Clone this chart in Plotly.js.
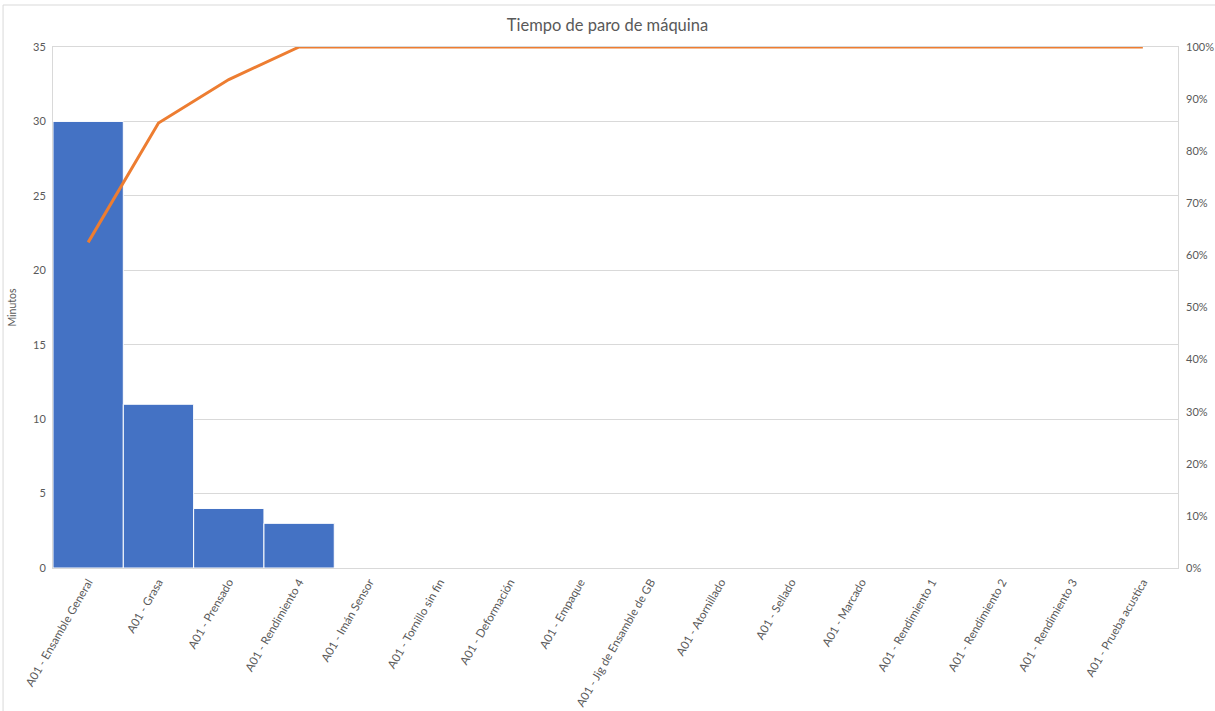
<!DOCTYPE html>
<html>
<head>
<meta charset="utf-8">
<script src="https://cdn.plot.ly/plotly-3.0.1.min.js"></script>
<style>html,body{margin:0;padding:0;background:#fff;}#chart{width:1215px;height:711px;}</style>
</head>
<body>
<div id="chart"></div>
<script>
const categories = [
  "A01 - Ensamble General", "A01 - Grasa", "A01 - Prensado", "A01 - Rendimiento 4",
  "A01 - Imán Sensor", "A01 - Tornillo sin fin", "A01 - Deformación", "A01 - Empaque",
  "A01 - Jig de Ensamble de GB", "A01 - Atornillado", "A01 - Sellado", "A01 - Marcado",
  "A01 - Rendimiento 1", "A01 - Rendimiento 2", "A01 - Rendimiento 3", "A01 - Prueba acustica"
];
const minutes = [30, 11, 4, 3, 0, 0, 0, 0, 0, 0, 0, 0, 0, 0, 0, 0];
const cumulativePct = [0.625, 0.854, 0.9375, 1, 1, 1, 1, 1, 1, 1, 1, 1, 1, 1, 1, 1];
const leftTicks = [0, 5, 10, 15, 20, 25, 30, 35];
const rightTicks = [0, 0.1, 0.2, 0.3, 0.4, 0.5, 0.6, 0.7, 0.8, 0.9, 1];

const fontFam = "Lato, 'Open Sans', sans-serif";
const txt = "#595959";
const grid = "#d9d9d9";

const traces = [
  {
    type: "bar", x: categories, y: minutes, yaxis: "y",
    marker: {color: "#4472C4", line: {color: "#ffffff", width: 1}},
    hoverinfo: "x+y", showlegend: false
  },
  {
    type: "scatter", mode: "lines", x: categories, y: cumulativePct, yaxis: "y2",
    line: {color: "#ED7D31", width: 3}, showlegend: false
  }
];

const layout = {
  width: 1215, height: 711,
  margin: {l: 53, r: 37, t: 47, b: 143},
  paper_bgcolor: "#ffffff", plot_bgcolor: "#ffffff",
  font: {family: fontFam, color: txt, size: 11},
  title: {text: "Tiempo de paro de máquina", x: 0.5, xanchor: "center", y: 0.965, yanchor: "middle",
          font: {family: fontFam, size: 16.5, color: txt}},
  bargap: 0,
  xaxis: {
    type: "category", tickangle: -60, tickfont: {size: 11.5, color: txt},
    showline: true, linecolor: grid, linewidth: 1, mirror: true,
    ticks: "", showgrid: false, automargin: false, ticklabelstandoff: 2
  },
  yaxis: {
    range: [0, 35], tickvals: leftTicks, ticktext: leftTicks.map(String),
    showgrid: true, gridcolor: grid, gridwidth: 1,
    showline: true, linecolor: grid, mirror: true, zeroline: false,
    ticks: "", tickfont: {size: 11, color: txt}, ticklabelstandoff: 4,
    title: {text: "Minutos", font: {size: 10.5, color: txt}, standoff: 14},
    automargin: false
  },
  yaxis2: {
    range: [0, 1], overlaying: "y", side: "right",
    tickvals: rightTicks, tickformat: ".0%",
    showgrid: false, zeroline: false, showline: false, ticks: "",
    tickfont: {size: 11, color: txt}, ticklabelstandoff: 7, automargin: false
  },
  shapes: [
    {type: "rect", xref: "paper", yref: "paper", x0: -0.0444, x1: 1.05, y0: -0.3, y1: 1.0806,
     line: {color: grid, width: 1}, fillcolor: "rgba(0,0,0,0)", layer: "below"}
  ]
};

Plotly.newPlot("chart", traces, layout, {displayModeBar: false, staticPlot: true});
</script>
</body>
</html>
